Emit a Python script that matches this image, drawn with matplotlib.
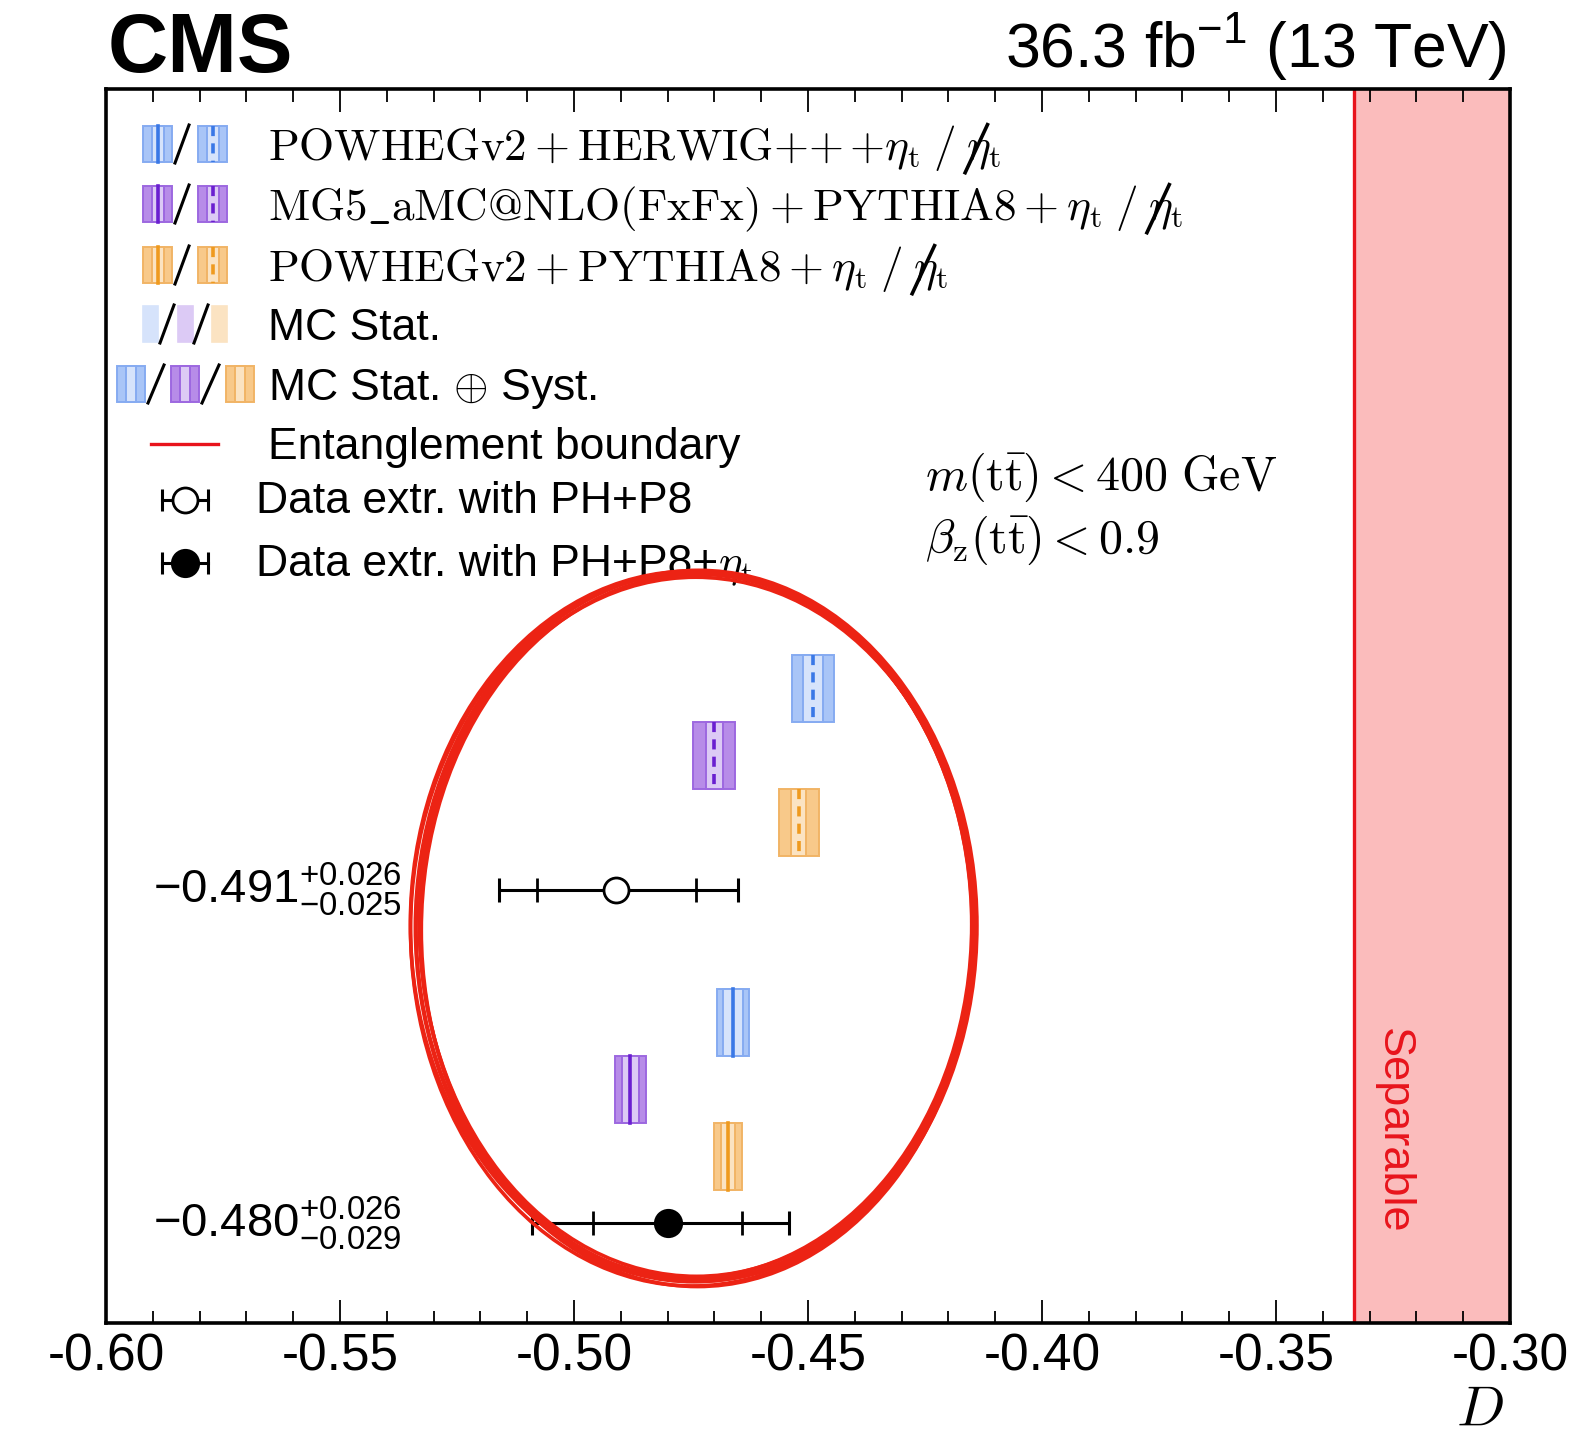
import matplotlib
matplotlib.use("Agg")
import matplotlib.pyplot as plt
from matplotlib.patches import Rectangle, Ellipse
from matplotlib.lines import Line2D
from matplotlib.transforms import Affine2D, blended_transform_factory
from matplotlib.ticker import MultipleLocator, FormatStrFormatter

plt.rcParams.update({
    "font.family": ["Liberation Sans", "DejaVu Sans"],
    "mathtext.fontset": "custom",
    "mathtext.rm": "Liberation Sans",
    "mathtext.it": "Liberation Sans:italic",
    "mathtext.bf": "Liberation Sans:bold",
    "axes.unicode_minus": False,
})

W, H = 1589, 1438

# --- values ---------------------------------------------------------------
# order: POWHEGv2+HERWIG++, MG5_aMC@NLO+PYTHIA8, POWHEGv2+PYTHIA8
mc_noeta = [-0.449, -0.470, -0.452]
mc_noeta_stat = [0.0021, 0.0018, 0.0016]
mc_noeta_tot = [0.0045, 0.0045, 0.0043]
mc_eta = [-0.466, -0.488, -0.467]
mc_eta_stat = [0.0022, 0.0018, 0.0015]
mc_eta_tot = [0.0035, 0.0033, 0.0030]

data_val = [-0.491, -0.480]          # extracted with PH+P8 / PH+P8+eta_t
data_up = [0.026, 0.026]
data_dn = [0.025, 0.029]
data_stat = [0.017, 0.016]
D_BOUND = -1.0 / 3.0                 # entanglement boundary

# palettes: light (stat), mid (total), edge, centre line
PAL = [
    ("#d6e3fb", "#a9c5f7", "#86abf1", "#3a78e6"),
    ("#dccaf5", "#b78ce8", "#9d68e0", "#6a1fd0"),
    ("#fbe3c2", "#f8c98a", "#f1b466", "#ef9a1f"),
]

# vertical layout (1 unit = one box height)
YMAX = 18.42
GROUP_TOP = [8.45, 13.43]
BOX_H = 1.0
DATA_OFF = 3.5

fig = plt.figure(figsize=(W / 100, H / 100), dpi=100)
ax = fig.add_axes([106 / W, 1 - 1323 / H, 1404 / W, 1234 / H])
P = Affine2D().scale(1 / W, -1 / H).translate(0, 1) + fig.transFigure  # output-pixel coords

ax.set_xlim(-0.60, -0.30)
ax.set_ylim(YMAX, 0)
ax.xaxis.set_major_locator(MultipleLocator(0.05))
ax.xaxis.set_minor_locator(MultipleLocator(0.01))
ax.xaxis.set_major_formatter(FormatStrFormatter("%.2f"))
ax.set_yticks([])
ax.tick_params(axis="x", which="both", direction="in", top=True, width=1.3,
               labelsize=37, pad=7)
ax.tick_params(axis="x", which="major", length=16.5)
ax.tick_params(axis="x", which="minor", length=9)
for sp in ax.spines.values():
    sp.set_linewidth(2.6)
    sp.set_zorder(6)

ax.axvspan(D_BOUND, -0.30, color="#fbbcbc", lw=0, zorder=0)
ax.axvline(D_BOUND, color="#e8141c", lw=2.4, zorder=1)
ax.text(-0.325, 15.55, "Separable", rotation=-90, color="#e8141c", fontsize=32.5,
        ha="center", va="center")


def band(trans, c, s, t, y0, h, pal, dashed=False, center=True):
    light, mid, edge, line = pal
    ax.add_patch(Rectangle((c - t, y0), 2 * t, h, fc=mid, ec=edge, lw=1.4,
                           transform=trans, clip_on=False, zorder=3))
    ax.add_patch(Rectangle((c - s, y0), 2 * s, h, fc=light, ec=edge, lw=1.4,
                           transform=trans, clip_on=False, zorder=3))
    if center:
        ax.add_line(Line2D([c, c], [y0, y0 + h], color=line, lw=2.6,
                           ls=(0, (2.8, 2.0)) if dashed else "-",
                           transform=trans, clip_on=False, zorder=4))


groups = [(mc_noeta, mc_noeta_stat, mc_noeta_tot, True),
          (mc_eta, mc_eta_stat, mc_eta_tot, False)]
for g, (vals, stats, tots, dashed) in enumerate(groups):
    for i in range(3):
        band(ax.transData, vals[i], stats[i], tots[i],
             GROUP_TOP[g] + i * BOX_H, BOX_H, PAL[i], dashed)

lab_tr = blended_transform_factory(ax.transAxes, ax.transData)
for g in range(2):
    y = GROUP_TOP[g] + DATA_OFF
    v = data_val[g]
    filled = g == 1
    ax.errorbar([v], [y], xerr=[[data_dn[g]], [data_up[g]]], fmt="none", ecolor="k",
                elinewidth=2.2, capsize=8.5, capthick=2.2, zorder=4)
    ax.plot([v - data_stat[g], v + data_stat[g]], [y, y], ls="none", marker="|",
            ms=17, mew=2.0, color="k", zorder=4)
    ax.plot([v], [y], marker="o", ms=18 if not filled else 19,
            mfc="k" if filled else "white", mec="k", mew=2.0, zorder=5)
    ax.text(0.0335, y, f"$-{abs(v):.3f}^{{+{data_up[g]:.3f}}}_{{-{data_dn[g]:.3f}}}$",
            transform=lab_tr, fontsize=34, ha="left", va="center", zorder=5)

# --- legend drawn by hand ---------------------------------------------------
R = fig.canvas.get_renderer()
INV = P.inverted()


def seq(x, y, parts, size):
    boxes = []
    for s, kw, gap in parts:
        x += gap
        t = ax.text(x, y, s, transform=P, ha="left", va="baseline", fontsize=size,
                    clip_on=False, zorder=5, **kw)
        bb = t.get_window_extent(R)
        (x0, ytop), (x1, ybot) = INV.transform([[bb.x0, bb.y1], [bb.x1, bb.y0]])
        boxes.append((x0, x1, ytop, ybot))
        x = x1
    return boxes


def slash(x0, x1, yc, half=19, lw=2.2):
    ax.add_line(Line2D([x0, x1], [yc + half, yc - half], color="k", lw=lw,
                       transform=P, clip_on=False, zorder=5))


CM = dict(math_fontfamily="cm")
gen_text = [r"$\mathrm{POWHEGv2}+\mathrm{HERWIG}{+}{+}\,{+}\eta_{\mathrm{t}}$",
            r"$\mathrm{MG5\_aMC@NLO(FxFx)}+\mathrm{PYTHIA8}+\eta_{\mathrm{t}}$",
            r"$\mathrm{POWHEGv2}+\mathrm{PYTHIA8}+\eta_{\mathrm{t}}$"]
row_y = [144, 204, 265, 324, 384, 444, 500, 563]
row_base = [160, 220, 281, 340, 400, 459, 513, 576]

for i in range(3):
    yc = row_y[i]
    band(P, 157.5, 6, 14.5, yc - 18, 36, PAL[i], dashed=False)
    slash(175, 189, yc)
    band(P, 212.5, 6, 14.5, yc - 18, 36, PAL[i], dashed=True)
    bx = seq(268, row_base[i], [(gen_text[i], CM, 0), (r"$/$", CM, 13),
                                (r"$\eta_{\mathrm{t}}$", CM, 11)], 32.5)
    x0, x1, yt, yb = bx[-1]
    w = x1 - x0
    ax.add_line(Line2D([x0 - 0.02 * w, x0 + 0.62 * w], [yb + 1, yt - 6], color="k",
                       lw=2.6, transform=P, clip_on=False, zorder=6))

yc = row_y[3]
for i, c in enumerate([150.5, 185, 219]):
    light, mid, edge, line = PAL[i]
    ax.add_patch(Rectangle((c - 7.5, yc - 18), 15, 36, fc=light, ec=light, lw=1.2,
                           transform=P, clip_on=False, zorder=3))
slash(160, 174, yc)
slash(194, 208, yc)
seq(268, row_base[3], [("MC Stat.", {}, 0)], 32)

yc = row_y[4]
for i, c in enumerate([131, 185, 239.5]):
    band(P, c, 5, 14, yc - 18, 36, PAL[i], center=False)
slash(148, 164, yc)
slash(202, 219, yc)
seq(268, row_base[4], [(r"MC Stat. $\oplus$ Syst.", {}, 0)], 32)

yc = row_y[5]
ax.add_line(Line2D([151, 218], [yc, yc], color="#e8141c", lw=2.4, transform=P,
                   clip_on=False, zorder=5))
seq(268, row_base[5], [("Entanglement boundary", {}, 0)], 32)

for k, filled in [(6, False), (7, True)]:
    yc = row_y[k]
    ax.add_line(Line2D([162, 208], [yc, yc], color="k", lw=2.2, transform=P,
                       clip_on=False, zorder=5))
    ax.add_line(Line2D([162, 208], [yc, yc], ls="none", marker="|", ms=16, mew=2.2,
                       color="k", transform=P, clip_on=False, zorder=5))
    ax.add_line(Line2D([185], [yc], ls="none", marker="o", ms=18 if not filled else 19,
                       mfc="k" if filled else "white", mec="k", mew=2.0,
                       transform=P, clip_on=False, zorder=6))
seq(256, row_base[6], [("Data extr. with PH+P8", {}, 0)], 32)
seq(256, row_base[7], [("Data extr. with PH+P8+", {}, 0),
                       (r"$\eta_{\mathrm{t}}$", CM, 0)], 32)

# selection cuts
ax.text(925, 490, r"$m(\mathrm{t\bar{t}}) < 400\ \mathrm{GeV}$", transform=P,
        fontsize=34.5, va="baseline", clip_on=False, **CM)
ax.text(925, 553, r"$\beta_{\mathrm{z}}(\mathrm{t\bar{t}}) < 0.9$", transform=P,
        fontsize=34.5, va="baseline", clip_on=False, **CM)

# header / axis title
fig.text(108, 72, "CMS", transform=P, fontsize=60, fontweight="bold", va="baseline")
fig.text(1507, 67, r"36.3 fb$^{-1}$ (13 TeV)", transform=P, fontsize=45,
         ha="right", va="baseline")
fig.text(1480, 1426, r"$D$", transform=P, fontsize=41, ha="center", va="baseline", **CM)

# hand-drawn red ellipse (several strokes)
ELL_C = (-0.4744, 12.51)
ELL_W, ELL_H = 0.119, 10.59
strokes = [(0.0, 0.0, 1.0, 1.0), (0.0008, 0.05, 0.992, 1.004),
           (-0.0006, -0.04, 1.008, 0.996), (0.0004, 0.02, 1.004, 0.99),
           (0.0010, -0.02, 1.0, 1.002), (-0.0003, 0.03, 1.012, 1.006),
           (0.0006, -0.05, 0.996, 0.994)]
for dx, dy, sw, sh in strokes:
    fig.add_artist(Ellipse((ELL_C[0] + dx, ELL_C[1] + dy), ELL_W * sw, ELL_H * sh,
                           fill=False, ec="#ec2314", lw=2.6, transform=ax.transData,
                           zorder=10))

fig.savefig("out.png", dpi=100, facecolor="white")
